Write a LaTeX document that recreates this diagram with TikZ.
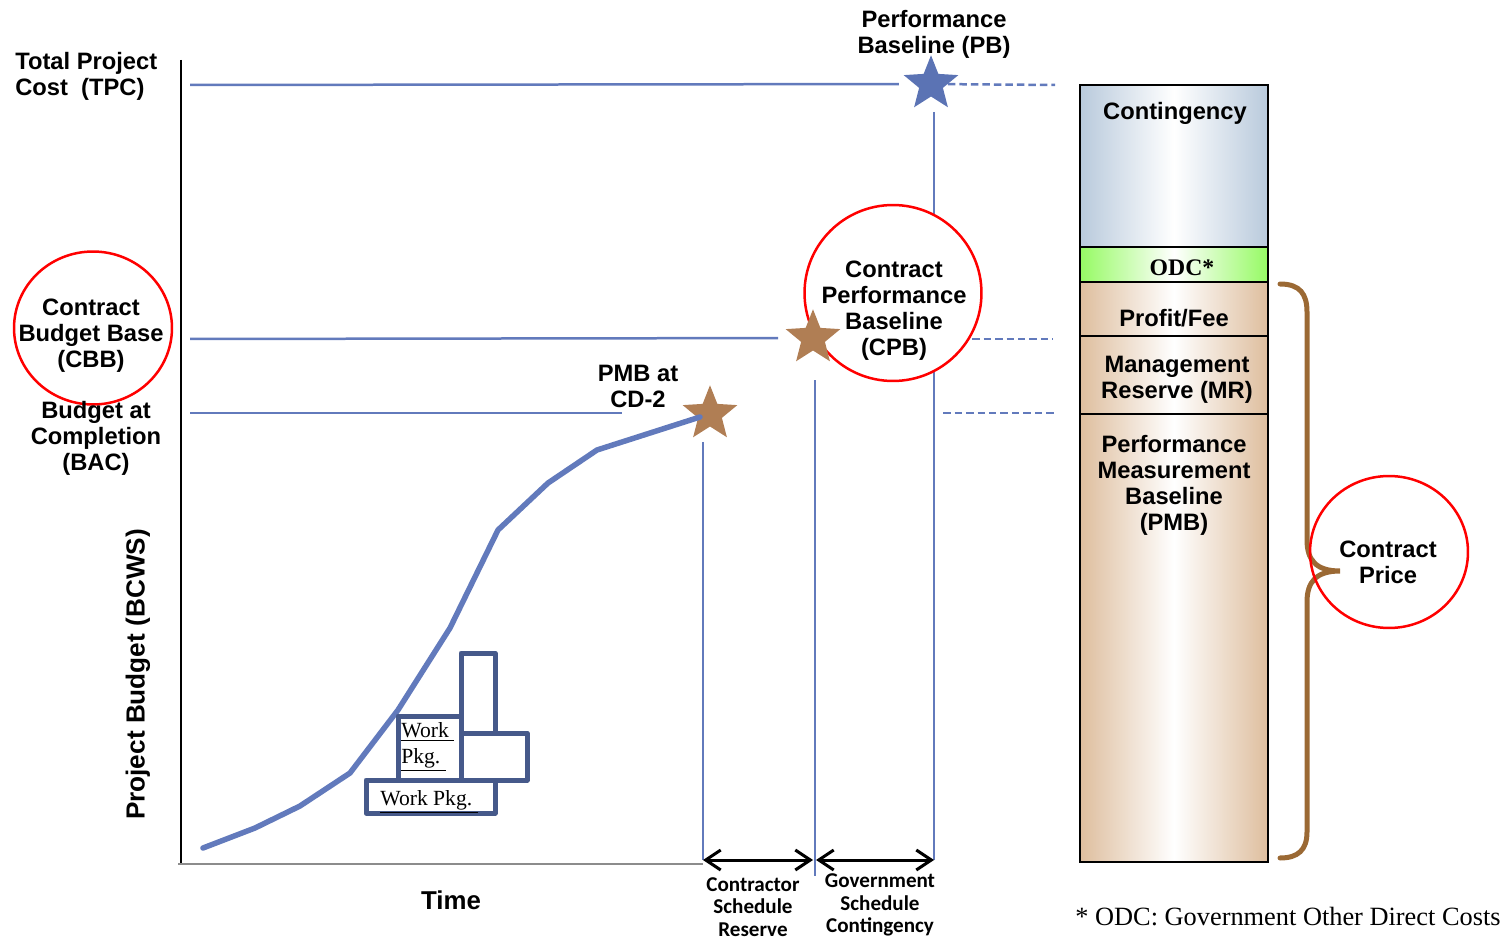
\documentclass[tikz,border=0pt]{standalone}
\usepackage{fontspec}
\usepackage{tikz}
\usetikzlibrary{shapes.geometric,arrows.meta}
\newfontfamily\arialfont{Liberation Sans}
\newfontfamily\carlitofont{Carlito}
\newfontfamily\timesfont{Liberation Serif}
\definecolor{linblue}{RGB}{98,122,188}
\definecolor{starblue}{RGB}{91,115,180}
\definecolor{starbrown}{RGB}{176,126,84}
\definecolor{wpblue}{RGB}{70,89,138}
\definecolor{bracebrown}{RGB}{155,105,52}
\definecolor{contblue}{RGB}{185,202,220}
\definecolor{odcgreen}{RGB}{150,250,100}
\definecolor{pmbtan}{RGB}{222,190,158}
\def\lblfont{\arialfont\bfseries\fontsize{13.5}{14.8}\selectfont}
\tikzset{
  budgetline/.style={line width=0.5mm, color=linblue},
  reserveline/.style={line width=0.5mm, color=linblue, dash pattern=on 1.5mm off 0.8mm},
  lbl/.style={font=\lblfont, align=center, inner sep=0, yshift=-0.05cm},
  schedlbl/.style={font=\carlitofont\bfseries\fontsize{12}{13}\selectfont, align=center, inner sep=0},
  wplbl/.style={font=\timesfont\fontsize{12.3}{14.8}\selectfont, align=left, inner sep=0},
  ring/.style={ellipse, draw=red, line width=0.5mm, fill=white, inner sep=0},
  bluestar/.style={star, star points=5, star point ratio=2.3, fill=starblue, inner sep=0, minimum size=1.15cm},
  brownstar/.style={star, star points=5, star point ratio=2.3, fill=starbrown, inner sep=0, minimum size=1.15cm},
  wpbox/.style={line width=1mm, draw=wpblue, fill=white, line join=round},
  colbox/.style={line width=0.5mm, draw=black},
  schedarrow/.style={line width=0.6mm, >={Straight Barb[length=3mm,width=4mm]}, <->}
}

\begin{document}
\begin{tikzpicture}[x=0.02cm, y=-0.02cm]
			%%%%% START %%%%%
			\useasboundingbox (0,0) rectangle (1505,939);

			% axes
			\draw[line width=0.5mm, color=black] (181,60) -- (181,864);
			\coordinate (tstart) at (178,864);
			\coordinate (tend) at (703,864);
			\draw[line width=0.4mm, color=black!45] (tstart) -- (tend);

			% stars
			\node[bluestar] (pbstar) at (931,84) {};
			\node[brownstar] (pmbstar) at (710,414) {};
			\coordinate (cpbpt) at (813,338);

			% baselines
			\coordinate (tpcl) at (190,85);
			\coordinate (tpcr) at (1055,85);
			\coordinate (pbfoot) at (934,860);
			\draw[budgetline, shorten >=0.3cm] (tpcl) -- (pbstar);
			\draw[reserveline] (pbstar) -- (tpcr);
			\draw[budgetline, shorten <=0.3cm] (pbstar.south -| pbfoot) -- (pbfoot);

			\coordinate (cbbl) at (190,339);
			\coordinate (cpbfoot) at (815,876);
			\draw[budgetline, shorten >=0.7cm] (cbbl) -- (cpbpt);
			\draw[budgetline, shorten <=0.85cm] (cpbpt -| cpbfoot) -- (cpbfoot);

			\coordinate (bacl) at (190,413);
			\coordinate (bacr) at (622,413);
			\coordinate (bacdl) at (943,413);
			\coordinate (bacdr) at (1055,413);
			\coordinate (pmbfoot) at (703,860);
			\draw[budgetline] (bacl) -- (bacr);
			\draw[reserveline] (bacdl) -- (bacdr);
			\draw[budgetline, shorten <=0.3cm] (pmbstar.south -| pmbfoot) -- (pmbfoot);

			\coordinate (cbbdl) at (972,339);
			\coordinate (cbbdr) at (1053,339);
			\draw[reserveline] (cbbdl) -- (cbbdr);

			% contract performance baseline ring
			\node[ring, minimum width=3.54cm, minimum height=3.52cm] (cpbring) at (893,293) {};
			\node[lbl] (cpb) at (894,308) {Contract\\Performance\\Baseline\\(CPB)};
			\node[brownstar] (cpbstar) at (cpbpt) {};

			% budget curve
			\draw[line width=1.1mm, color=linblue, line join=round, line cap=round]
				(203,848) -- (255,828) -- (300,806) -- (350,773) -- (398,710) -- (450,628)
				-- (498,530) -- (548,483) -- (597,450) -- (700,417);

			% work packages
			\draw[wpbox] (461,653) rectangle (495,733);
			\draw[wpbox] (461,733) rectangle (527,780);
			\draw[wpbox] (398,716) rectangle (461,780);
			\draw[wpbox] (366,780) rectangle (495,813);
			\node[wplbl, anchor=north west] (wpb) at (401,722) {\underline{Work\ }\\\underline{Pkg.\ }};
			\node[wplbl, anchor=west] (wpa) at (380,802) {\underline{Work Pkg.\ }};

			% left labels
			\node[lbl, anchor=west, align=left] (tpc) at (15,74) {Total Project\\Cost\ \ (TPC)};
			\node[ring, minimum width=3.16cm, minimum height=3.06cm] (cbbring) at (93,328) {};
			\node[lbl] (cbb) at (91,333) {Contract\\Budget Base\\(CBB)};
			\node[lbl] (bac) at (96,436) {Budget at\\Completion\\(BAC)};
			\node[lbl] (pmb) at (638,384) {PMB at\\CD-2};
			\node[lbl] (pb) at (934,32) {Performance\\Baseline (PB)};
			\node[lbl, rotate=90, font=\arialfont\bfseries\fontsize{14.9}{16}\selectfont] (bcws) at (138,672) {Project Budget (BCWS)};
			\node[lbl, font=\arialfont\bfseries\fontsize{14.7}{16}\selectfont] (time) at (451,898) {Time};

			% schedule reserve arrows
			\coordinate (csr1) at (703,860);
			\coordinate (csr2) at (813,860);
			\coordinate (gsc1) at (816,860);
			\coordinate (gsc2) at (934,860);
			\draw[schedarrow] (csr1) -- (csr2);
			\draw[schedarrow] (gsc1) -- (gsc2);
			\node[schedlbl] (csr) at (753,907) {Contractor\\Schedule\\Reserve};
			\node[schedlbl] (gsc) at (880,905) {Government\\Schedule\\Contingency};

			% contract price column
			\draw[colbox, left color=contblue, right color=contblue, middle color=white] (1080,85) rectangle (1268,247);
			\draw[colbox, left color=odcgreen, right color=odcgreen, middle color=white] (1080,247) rectangle (1268,282);
			\draw[colbox, left color=pmbtan, right color=pmbtan, middle color=white] (1080,282) rectangle (1268,336);
			\draw[colbox, left color=pmbtan, right color=pmbtan, middle color=white] (1080,336) rectangle (1268,414);
			\draw[colbox, left color=pmbtan, right color=pmbtan, middle color=white] (1080,414) rectangle (1268,862);
			\node[lbl] (cont) at (1175,111) {Contingency};
			\node[lbl, font=\timesfont\bfseries\fontsize{13.5}{14.8}\selectfont] (odc) at (1182,265) {ODC*};
			\node[lbl] (fee) at (1174,316) {Profit/Fee};
			\node[lbl] (mr) at (1177,377) {Management\\Reserve (MR)};
			\node[lbl] (pmbbox) at (1174,483) {Performance\\Measurement\\Baseline\\(PMB)};

			% brace
			\draw[line width=1mm, color=bracebrown, line cap=round]
				(1280,284) .. controls (1300,284) and (1307,294) .. (1307,312) -- (1307,540)
				.. controls (1307,560) and (1316,571) .. (1340,571)
				.. controls (1316,571) and (1307,582) .. (1307,602) -- (1307,832)
				.. controls (1307,850) and (1298,858) .. (1280,858);
			\node[ring, minimum width=3.16cm, minimum height=3.04cm, fill=none] (priceRing) at (1389,552) {};
			\node[lbl] (price) at (1388,560) {Contract\\Price};

			% footnote
			\node[anchor=west, inner sep=0, font=\timesfont\fontsize{15}{17}\selectfont] (odcnote) at (1075,917) {* ODC: Government Other Direct Costs};
			%%%%% END %%%%%
\end{tikzpicture}
\end{document}
